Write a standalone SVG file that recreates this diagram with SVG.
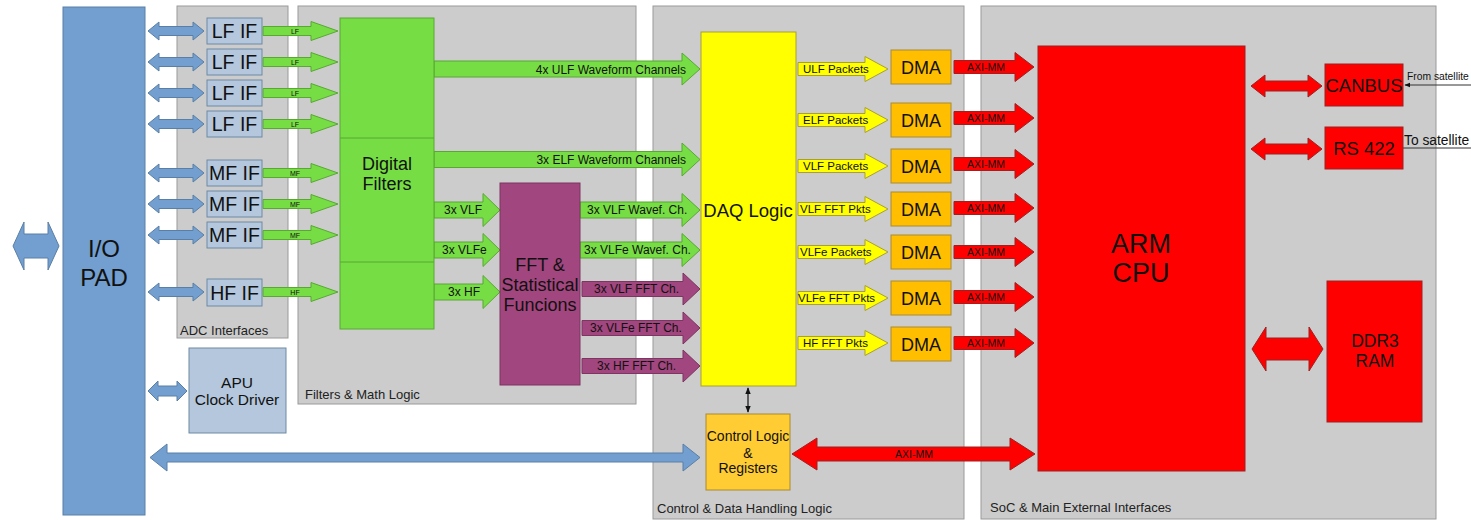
<svg xmlns="http://www.w3.org/2000/svg" width="1471" height="520" viewBox="0 0 1471 520">
<style>
text{font-family:"Liberation Sans",Arial,sans-serif;fill:#111}
.grp{fill:#cccccc;stroke:#9a9a9a;stroke-width:1}
.glbl{font-size:13px;fill:#222}
.blue{fill:#729fcf;stroke:#5a7fa6;stroke-width:1}
.lblue{fill:#b4c7dc;stroke:#6f8aa5;stroke-width:1}
.green{fill:#77dd44;stroke:#58a832;stroke-width:1}
.purple{fill:#a1467e;stroke:#7d3562;stroke-width:1}
.yellow{fill:#ffff00;stroke:#a9a030;stroke-width:1}
.orange{fill:#ffbf00;stroke:#a98a30;stroke-width:1}
.gold{fill:#ffcc33;stroke:#a98a30;stroke-width:1}
.red{fill:#ff0000;stroke:#a02020;stroke-width:1}
.c{text-anchor:middle}
.t18{font-size:18px}
.tif{font-size:19.5px}
.t12{font-size:12px}
.ty{font-size:11.5px}
.t10{font-size:10.5px}
.t7{font-size:7px}
</style>
<defs>
<path id="bdbl" d="M0,0 L11,-9 L11,-4.5 L45,-4.5 L45,-9 L56,0 L45,9 L45,4.5 L11,4.5 L11,9 Z"/>
<path id="gsm" d="M0,-4.5 L48,-4.5 L48,-9.5 L75,0 L48,9.5 L48,4.5 L0,4.5 Z"/>
<path id="yarr" d="M0,-6.5 L67,-6.5 L67,-12.5 L90,0 L67,12.5 L67,6.5 L0,6.5 Z"/>
<path id="rarr" d="M0,-6.5 L61,-6.5 L61,-14.5 L80,0 L61,14.5 L61,6.5 L0,6.5 Z"/>
<path id="parr" d="M0,-7.5 L101,-7.5 L101,-16 L118,0 L101,16 L101,7.5 L0,7.5 Z"/>
<path id="garr" d="M0,-8 L102,-8 L102,-16.5 L120,0 L102,16.5 L102,8 L0,8 Z"/>
<path id="gshort" d="M0,-8 L49,-8 L49,-16.5 L66,0 L49,16.5 L49,8 L0,8 Z"/>
<path id="rdbl" d="M0,0 L14,-11 L14,-5 L57,-5 L57,-11 L71,0 L57,11 L57,5 L14,5 L14,11 Z"/>
<marker id="ah" viewBox="0 0 10 10" refX="9" refY="5" markerWidth="6" markerHeight="6" orient="auto-start-reverse"><path d="M0,1 L10,5 L0,9 Z" fill="#111"/></marker>
</defs>

<!-- groups -->
<g id="group-adc"><rect class="grp" x="177" y="6" width="111" height="332"/><text class="glbl" x="180" y="335">ADC Interfaces</text></g>
<g id="group-filters"><rect class="grp" x="298" y="6" width="338" height="398"/><text class="glbl" x="305" y="399">Filters &amp; Math Logic</text></g>
<g id="group-control"><rect class="grp" x="653" y="6" width="311" height="513"/><text class="glbl" x="657" y="513">Control &amp; Data Handling Logic</text></g>
<g id="group-soc"><rect class="grp" x="981" y="6" width="455" height="513"/><text class="glbl" x="990" y="512">SoC &amp; Main External Interfaces</text></g>

<!-- connectors -->
<g id="connectors">
<path class="blue" d="M13,246 L24,222 L24,234 L48,234 L48,222 L59,246 L48,270 L48,258 L24,258 L24,270 Z"/>
<use href="#bdbl" class="blue" x="148" y="31"/>
<use href="#bdbl" class="blue" x="148" y="62"/>
<use href="#bdbl" class="blue" x="148" y="93"/>
<use href="#bdbl" class="blue" x="148" y="124"/>
<use href="#bdbl" class="blue" x="148" y="173"/>
<use href="#bdbl" class="blue" x="148" y="204"/>
<use href="#bdbl" class="blue" x="148" y="235"/>
<use href="#bdbl" class="blue" x="148" y="292"/>
<path class="blue" d="M148,391 L158,381 L158,386 L177,386 L177,381 L187,391 L177,401 L177,396 L158,396 L158,401 Z"/>
<path class="blue" d="M150,457.5 L167,444 L167,453 L683,453 L683,444 L700,457.5 L683,471 L683,462 L167,462 L167,471 Z"/>

<use href="#gsm" class="green" x="263" y="31"/><text class="t7 c" x="295" y="33.5">LF</text>
<use href="#gsm" class="green" x="263" y="62"/><text class="t7 c" x="295" y="64.5">LF</text>
<use href="#gsm" class="green" x="263" y="93"/><text class="t7 c" x="295" y="95.5">LF</text>
<use href="#gsm" class="green" x="263" y="124"/><text class="t7 c" x="295" y="126.5">LF</text>
<use href="#gsm" class="green" x="263" y="173"/><text class="t7 c" x="295" y="175.5">MF</text>
<use href="#gsm" class="green" x="263" y="204"/><text class="t7 c" x="295" y="206.5">MF</text>
<use href="#gsm" class="green" x="263" y="235"/><text class="t7 c" x="295" y="237.5">MF</text>
<use href="#gsm" class="green" x="263" y="292"/><text class="t7 c" x="295" y="294.5">HF</text>

<path class="green" d="M434,61 L682,61 L682,53 L700,69 L682,85 L682,77 L434,77 Z"/>
<text class="t12" x="686" y="73.5" text-anchor="end">4x ULF Waveform Channels</text>
<path class="green" d="M434,151.5 L682,151.5 L682,143 L700,159.5 L682,176 L682,167.5 L434,167.5 Z"/>
<text class="t12" x="686" y="164" text-anchor="end">3x ELF Waveform Channels</text>

<use href="#gshort" class="green" x="434" y="210"/><text class="t12" x="444" y="214">3x VLF</text>
<use href="#gshort" class="green" x="434" y="250"/><text class="t12" x="442" y="254">3x VLFe</text>
<use href="#gshort" class="green" x="434" y="292"/><text class="t12" x="448" y="296">3x HF</text>

<use href="#garr" class="green" x="580" y="210"/><text class="t12" x="587" y="214">3x VLF Wavef. Ch.</text>
<use href="#garr" class="green" x="580" y="250"/><text class="t12" x="584" y="254">3x VLFe Wavef. Ch.</text>
<use href="#parr" class="purple" x="582" y="289"/><text class="t12" x="594" y="293">3x VLF FFT Ch.</text>
<use href="#parr" class="purple" x="582" y="328"/><text class="t12" x="590" y="332">3x VLFe FFT Ch.</text>
<use href="#parr" class="purple" x="582" y="366"/><text class="t12" x="597" y="370">3x HF FFT Ch.</text>

<use href="#yarr" class="yellow" x="798" y="69"/><text class="ty" x="803" y="73">ULF Packets</text>
<use href="#yarr" class="yellow" x="798" y="120"/><text class="ty" x="803" y="124">ELF Packets</text>
<use href="#yarr" class="yellow" x="798" y="166"/><text class="ty" x="803" y="170">VLF Packets</text>
<use href="#yarr" class="yellow" x="798" y="209"/><text class="ty" x="800" y="213">VLF FFT Pkts</text>
<use href="#yarr" class="yellow" x="798" y="252"/><text class="ty" x="800" y="256">VLFe Packets</text>
<use href="#yarr" class="yellow" x="798" y="298"/><text class="ty" x="798" y="302">VLFe FFT Pkts</text>
<use href="#yarr" class="yellow" x="798" y="343"/><text class="ty" x="803" y="347">HF FFT Pkts</text>

<use href="#rarr" class="red" x="954" y="67"/><text class="t10" x="967" y="71">AXI-MM</text>
<use href="#rarr" class="red" x="954" y="118"/><text class="t10" x="967" y="122">AXI-MM</text>
<use href="#rarr" class="red" x="954" y="164"/><text class="t10" x="967" y="168">AXI-MM</text>
<use href="#rarr" class="red" x="954" y="208"/><text class="t10" x="967" y="212">AXI-MM</text>
<use href="#rarr" class="red" x="954" y="252"/><text class="t10" x="967" y="256">AXI-MM</text>
<use href="#rarr" class="red" x="954" y="297"/><text class="t10" x="967" y="301">AXI-MM</text>
<use href="#rarr" class="red" x="954" y="343"/><text class="t10" x="967" y="347">AXI-MM</text>

<path class="red" d="M792,454 L817,438 L817,447 L1010,447 L1010,438 L1035,454 L1010,470 L1010,461 L817,461 L817,470 Z"/>
<text class="t10 c" x="914" y="457.5">AXI-MM</text>

<use href="#rdbl" class="red" x="1251" y="86"/>
<use href="#rdbl" class="red" x="1251" y="149"/>
<path class="red" d="M1252,349 L1266,327 L1266,338 L1309,338 L1309,327 L1323,349 L1309,371 L1309,360 L1266,360 L1266,371 Z"/>

<line x1="748" y1="388" x2="748" y2="412" stroke="#111" stroke-width="1.2" marker-start="url(#ah)" marker-end="url(#ah)"/>
<line x1="1471" y1="85" x2="1405" y2="85" stroke="#333" stroke-width="1" marker-end="url(#ah)"/>
<line x1="1403" y1="148" x2="1471" y2="148" stroke="#333" stroke-width="1"/>
<text x="1407" y="80" font-size="10.3">From satellite</text>
<text x="1404" y="145" font-size="13.8">To satellite</text>
</g>

<!-- nodes -->
<g id="io-pad"><rect class="blue" x="63" y="7" width="82" height="508"/><text class="c" x="104" y="257" font-size="24">I/O</text><text class="c" x="104" y="286" font-size="24">PAD</text></g>
<g id="lf-if-1"><rect class="lblue" x="207" y="18" width="55" height="26"/><text class="tif c" x="234.5" y="38">LF IF</text></g>
<g id="lf-if-2"><rect class="lblue" x="207" y="49" width="55" height="26"/><text class="tif c" x="234.5" y="69">LF IF</text></g>
<g id="lf-if-3"><rect class="lblue" x="207" y="80" width="55" height="26"/><text class="tif c" x="234.5" y="100">LF IF</text></g>
<g id="lf-if-4"><rect class="lblue" x="207" y="111" width="55" height="26"/><text class="tif c" x="234.5" y="131">LF IF</text></g>
<g id="mf-if-1"><rect class="lblue" x="207" y="160" width="55" height="26"/><text class="tif c" x="234.5" y="180">MF IF</text></g>
<g id="mf-if-2"><rect class="lblue" x="207" y="191" width="55" height="26"/><text class="tif c" x="234.5" y="211">MF IF</text></g>
<g id="mf-if-3"><rect class="lblue" x="207" y="222" width="55" height="26"/><text class="tif c" x="234.5" y="242">MF IF</text></g>
<g id="hf-if"><rect class="lblue" x="207" y="279" width="55" height="27"/><text class="tif c" x="234.5" y="299.5">HF IF</text></g>
<g id="apu-clock"><rect class="lblue" x="189" y="348" width="97" height="85"/><text class="c" x="237" y="387.5" font-size="15.5">APU</text><text class="c" x="237" y="404.5" font-size="15.5">Clock Driver</text></g>

<g id="digital-filters"><rect class="green" x="340" y="18" width="94" height="311"/><line x1="340" y1="138" x2="434" y2="138" stroke="#58a832"/><line x1="340" y1="262" x2="434" y2="262" stroke="#58a832"/><text class="t18 c" x="387" y="170">Digital</text><text class="t18 c" x="387" y="190">Filters</text></g>
<g id="fft"><rect class="purple" x="500" y="183" width="80" height="202"/><text class="t18 c" x="540" y="271">FFT &amp;</text><text class="t18 c" x="540" y="291">Statistical</text><text class="t18 c" x="540" y="311">Funcions</text></g>

<g id="daq-logic"><rect class="yellow" x="701" y="32" width="95" height="354"/><text class="c" x="748" y="216.5" font-size="18.5">DAQ Logic</text></g>
<g id="control-logic"><rect class="gold" x="706" y="414" width="84" height="76"/><text class="c" x="748" y="441" font-size="14">Control Logic</text><text class="c" x="748" y="458" font-size="14">&amp;</text><text class="c" x="748" y="473" font-size="14">Registers</text></g>

<g id="dma-1"><rect class="orange" x="891" y="50" width="60" height="34"/><text class="t18 c" x="921" y="73.5">DMA</text></g>
<g id="dma-2"><rect class="orange" x="891" y="103" width="60" height="34"/><text class="t18 c" x="921" y="126.5">DMA</text></g>
<g id="dma-3"><rect class="orange" x="891" y="149" width="60" height="34"/><text class="t18 c" x="921" y="172.5">DMA</text></g>
<g id="dma-4"><rect class="orange" x="891" y="192" width="60" height="34"/><text class="t18 c" x="921" y="215.5">DMA</text></g>
<g id="dma-5"><rect class="orange" x="891" y="235" width="60" height="34"/><text class="t18 c" x="921" y="258.5">DMA</text></g>
<g id="dma-6"><rect class="orange" x="891" y="281" width="60" height="34"/><text class="t18 c" x="921" y="304.5">DMA</text></g>
<g id="dma-7"><rect class="orange" x="891" y="327" width="60" height="34"/><text class="t18 c" x="921" y="350.5">DMA</text></g>

<g id="arm-cpu"><rect class="red" x="1038" y="46" width="207" height="425"/><text class="c" x="1141" y="253" font-size="27">ARM</text><text class="c" x="1141" y="282" font-size="27">CPU</text></g>
<g id="canbus"><rect class="red" x="1325" y="64" width="78" height="42"/><text class="c" x="1364" y="91.5" font-size="18.5">CANBUS</text></g>
<g id="rs422"><rect class="red" x="1325" y="127" width="78" height="42"/><text class="c" x="1364" y="154.5" font-size="18.5">RS 422</text></g>
<g id="ddr3"><rect class="red" x="1327" y="281" width="95" height="141"/><text class="c" x="1375" y="347" font-size="17.5">DDR3</text><text class="c" x="1375" y="367" font-size="17.5">RAM</text></g>
</svg>
